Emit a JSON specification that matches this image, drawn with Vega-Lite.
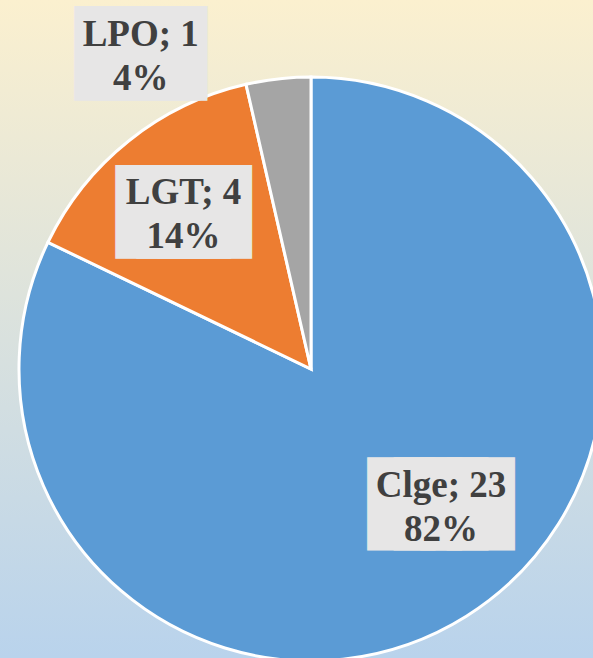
{
  "$schema": "https://vega.github.io/schema/vega-lite/v6.json",
  "width": 622,
  "height": 738,
  "autosize": {"type": "none"},
  "padding": 0,
  "background": "#bdd6ee",
  "config": {"view": {"stroke": null}},
  "data": {
    "values": [
      {"cat": "Clge", "value": 23, "label": "Clge; 23\n82%"},
      {"cat": "LGT", "value": 4, "label": "LGT; 4\n14%"},
      {"cat": "LPO", "value": 1, "label": "LPO; 1\n4%"}
    ]
  },
  "layer": [
    {
      "data": {"values": [{"bg": 1}]},
      "mark": {
        "type": "rect",
        "fill": {
          "gradient": "linear",
          "x1": 0, "y1": 0, "x2": 0, "y2": 1,
          "stops": [
            {"offset": 0, "color": "#fbf0cf"},
            {"offset": 0.89, "color": "#b9d3ec"},
            {"offset": 1, "color": "#b9d3ec"}
          ]
        }
      },
      "encoding": {}
    },
    {
      "mark": {"type": "arc", "radius": 292, "stroke": "#ffffff", "strokeWidth": 3},
      "encoding": {
        "theta": {"field": "value", "type": "quantitative", "stack": true},
        "detail": {"field": "cat", "type": "nominal"},
        "color": {
          "field": "cat", "type": "nominal",
          "scale": {"domain": ["Clge", "LGT", "LPO"], "range": ["#5b9bd5", "#ed7d31", "#a5a5a5"]},
          "legend": null
        }
      }
    },
    {
      "mark": {"type": "text", "radius": 190, "dx": 29, "dy": -24, "font": "DejaVu Sans Mono", "fontSize": 44, "fill": "#e7e6e6", "stroke": "#e7e6e6", "strokeWidth": 41, "strokeJoin": "miter", "align": "center", "baseline": "middle"},
      "encoding": {
        "theta": {"field": "value", "type": "quantitative", "stack": true},
        "detail": {"field": "cat", "type": "nominal"},
        "text": {"value": "████"},
        "opacity": {"condition": {"test": "datum.cat === 'Clge'", "value": 1}, "value": 0}
      }
    },
    {
      "mark": {"type": "text", "radius": 190, "dx": 29, "dy": -44, "font": "Liberation Serif", "fontWeight": "bold", "fontSize": 37, "lineHeight": 44, "lineBreak": "\n", "fill": "#404040", "align": "center", "baseline": "middle"},
      "encoding": {
        "theta": {"field": "value", "type": "quantitative", "stack": true},
        "detail": {"field": "cat", "type": "nominal"},
        "text": {"field": "label"},
        "opacity": {"condition": {"test": "datum.cat === 'Clge'", "value": 1}, "value": 0}
      }
    },
    {
      "mark": {"type": "text", "radius": 190, "dx": -9, "dy": -7, "font": "DejaVu Sans Mono", "fontSize": 35, "fill": "#e7e6e6", "stroke": "#e7e6e6", "strokeWidth": 52, "strokeJoin": "miter", "align": "center", "baseline": "middle"},
      "encoding": {
        "theta": {"field": "value", "type": "quantitative", "stack": true},
        "detail": {"field": "cat", "type": "nominal"},
        "text": {"value": "████"},
        "opacity": {"condition": {"test": "datum.cat === 'LGT'", "value": 1}, "value": 0}
      }
    },
    {
      "mark": {"type": "text", "radius": 190, "dx": -9, "dy": -27, "font": "Liberation Serif", "fontWeight": "bold", "fontSize": 37, "lineHeight": 44, "lineBreak": "\n", "fill": "#404040", "align": "center", "baseline": "middle"},
      "encoding": {
        "theta": {"field": "value", "type": "quantitative", "stack": true},
        "detail": {"field": "cat", "type": "nominal"},
        "text": {"field": "label"},
        "opacity": {"condition": {"test": "datum.cat === 'LGT'", "value": 1}, "value": 0}
      }
    },
    {
      "mark": {"type": "text", "radius": 190, "dx": -149, "dy": -125, "font": "DejaVu Sans Mono", "fontSize": 31, "fill": "#e7e6e6", "stroke": "#e7e6e6", "strokeWidth": 58, "strokeJoin": "miter", "align": "center", "baseline": "middle"},
      "encoding": {
        "theta": {"field": "value", "type": "quantitative", "stack": true},
        "detail": {"field": "cat", "type": "nominal"},
        "text": {"value": "████"},
        "opacity": {"condition": {"test": "datum.cat === 'LPO'", "value": 1}, "value": 0}
      }
    },
    {
      "mark": {"type": "text", "radius": 190, "dx": -149, "dy": -145, "font": "Liberation Serif", "fontWeight": "bold", "fontSize": 37, "lineHeight": 44, "lineBreak": "\n", "fill": "#404040", "align": "center", "baseline": "middle"},
      "encoding": {
        "theta": {"field": "value", "type": "quantitative", "stack": true},
        "detail": {"field": "cat", "type": "nominal"},
        "text": {"field": "label"},
        "opacity": {"condition": {"test": "datum.cat === 'LPO'", "value": 1}, "value": 0}
      }
    }
  ]
}
